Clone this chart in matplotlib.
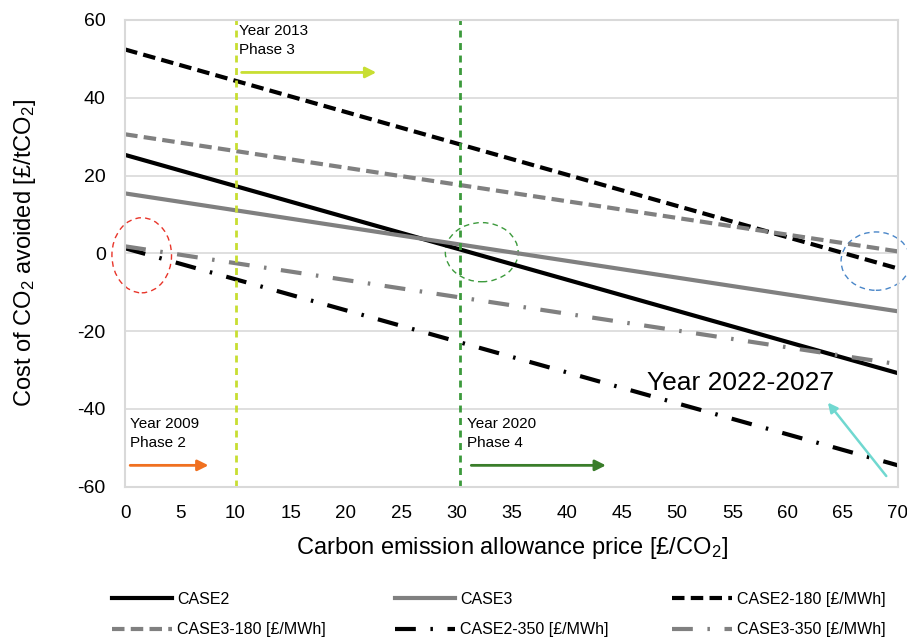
import matplotlib
matplotlib.use('Agg')
import matplotlib.pyplot as plt
from matplotlib.patches import Ellipse

plt.rcParams['font.family'] = ['Liberation Sans', 'DejaVu Sans']
plt.rcParams['mathtext.fontset'] = 'custom'
plt.rcParams['mathtext.rm'] = 'Liberation Sans'
plt.rcParams['mathtext.it'] = 'Liberation Sans'
plt.rcParams['axes.unicode_minus'] = False

# carbon price [£/CO2] and cost of CO2 avoided [£/tCO2]
price = [0, 70]
case2 = [25.3, -30.8]
case3 = [15.4, -14.9]
case2_180 = [52.4, -3.9]
case3_180 = [30.6, 0.5]
case2_350 = [1.3, -54.5]
case3_350 = [1.8, -28.5]

phase_years = ['Year 2009\nPhase 2', 'Year 2013\nPhase 3', 'Year 2020\nPhase 4']
phase_start = [0, 10, 30.3]

BLACK = '#000000'
GREY = '#808080'

fig = plt.figure(figsize=(9.07, 6.43), dpi=100)
ax = fig.add_axes([0.138, 0.243, 0.852, 0.726])

lw = 3.0
dash = (3.0, 1.5)
dashdot = (5, 3.5, 0.6, 3.5)
l1, = ax.plot(price, case2, color=BLACK, lw=lw, label='CASE2')
l2, = ax.plot(price, case3, color=GREY, lw=lw, label='CASE3')
l3, = ax.plot(price, case2_180, color=BLACK, lw=lw, dashes=dash, label='CASE2-180 [£/MWh]')
l4, = ax.plot(price, case3_180, color=GREY, lw=lw, dashes=dash, label='CASE3-180 [£/MWh]')
l5, = ax.plot(price, case2_350, color=BLACK, lw=lw, dashes=dashdot, label='CASE2-350 [£/MWh]')
l6, = ax.plot(price, case3_350, color=GREY, lw=lw, dashes=dashdot, label='CASE3-350 [£/MWh]')

# phase boundaries
ax.axvline(phase_start[1], color='#c8de32', lw=2, dashes=(2.5, 2))
ax.axvline(phase_start[2], color='#3c9a3c', lw=2, dashes=(2.5, 2))

# phase annotations
ax.text(0.4, -42.0, phase_years[0], fontsize=11, va='top', linespacing=1.45)
ax.annotate('', xy=(7.8, -54.5), xytext=(0.2, -54.5),
            arrowprops=dict(arrowstyle='-|>', color='#f07020', lw=2, mutation_scale=16))
ax.text(10.3, 59.0, phase_years[1], fontsize=11, va='top', linespacing=1.45)
ax.annotate('', xy=(23.0, 46.5), xytext=(10.3, 46.5),
            arrowprops=dict(arrowstyle='-|>', color='#c8de32', lw=2, mutation_scale=16))
ax.text(31.0, -42.0, phase_years[2], fontsize=11, va='top', linespacing=1.45)
ax.annotate('', xy=(43.8, -54.5), xytext=(31.1, -54.5),
            arrowprops=dict(arrowstyle='-|>', color='#3a7d2a', lw=2, mutation_scale=16))

ax.text(47.3, -33.3, 'Year 2022-2027', fontsize=19, va='center')
ax.annotate('', xy=(63.5, -37.8), xytext=(69.1, -57.8),
            arrowprops=dict(arrowstyle='-|>', color='#70d8d0', lw=1.8, mutation_scale=14),
            annotation_clip=False)

# highlighted regions
for cx, cy, w, h, col in [(1.5, -0.5, 5.4, 19.3, '#e8352a'),
                          (32.3, 0.3, 6.6, 15.2, '#3c9a3c'),
                          (68.0, -2.0, 6.3, 15.0, '#4a86c8')]:
    ax.add_patch(Ellipse((cx, cy), w, h, fill=False, ec=col, lw=1.0,
                         ls=(0, (4, 3)), clip_on=False))

ax.set_xlim(0, 70)
ax.set_ylim(-60, 60)
ax.set_xticks(range(0, 71, 5))
ax.set_yticks(range(-60, 61, 20))
ax.tick_params(length=0)
ax.tick_params(axis='x', labelsize=13.5, pad=13)
ax.tick_params(axis='y', labelsize=14, pad=14)
ax.yaxis.grid(True, color='#d9d9d9', lw=1.2)
ax.set_axisbelow(True)
for s in ax.spines.values():
    s.set_color('#d9d9d9')
    s.set_linewidth(1.5)

ax.set_xlabel(r'Carbon emission allowance price [£/CO$_\mathrm{2}$]', fontsize=17)
ax.set_ylabel(r'Cost of CO$_\mathrm{2}$ avoided [£/tCO$_\mathrm{2}$]', fontsize=17)
ax.xaxis.set_label_coords(0.5, -0.103)
ax.yaxis.set_label_coords(-0.113, 0.5)

# legend: three columns placed like the original
cols = [([l1, l4], 112), ([l2, l5], 395), ([l3, l6], 672)]
for hs, px in cols:
    lg = fig.legend(hs, [h.get_label() for h in hs], loc='upper left',
                    bbox_to_anchor=(px / 907, 1 - 592 / 643), frameon=False, fontsize=11.5,
                    handlelength=3.75, handletextpad=0.35, labelspacing=0.95,
                    borderpad=0, borderaxespad=0)

fig.savefig('out.png', dpi=100)
